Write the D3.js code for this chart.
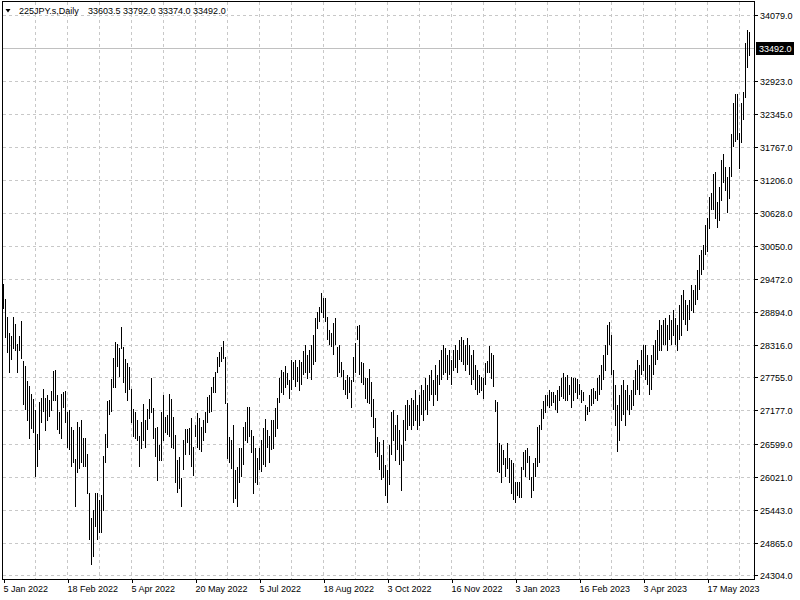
<!DOCTYPE html>
<html><head><meta charset="utf-8">
<script src="https://cdn.jsdelivr.net/npm/d3@7"></script>
<style>
html,body{margin:0;padding:0;background:#fff;}
svg{display:block;font-family:"Liberation Sans",Arial,sans-serif;}
</style></head><body>
<svg id="chart" width="800" height="600"></svg>
<script>
// ---------- data ----------
const symbolName = "225JPY.s,Daily";
const lastOHLC = [33603.5, 33792.0, 33374.0, 33492.0];
const lastPrice = 33492.0;

const highs = [
29392,29131,28816,28537,28484,28816,28694,28345,28484,28747,28049,27961,27700,27612,27472,27385,27193,26774,27332,27402,
27560,27402,27455,27367,27525,27874,27891,27455,27158,27472,27507,27525,27158,27193,26896,26844,26338,26983,26896,27018,
26704,26704,26425,25744,25307,25447,25744,25744,25622,25709,26390,26774,27350,27367,27734,28100,28380,28345,28275,28642,
28293,28083,28014,27944,27560,27210,27158,27018,26739,26983,27297,27018,27210,27385,27751,27227,26878,26896,26582,27158,
27455,27071,27106,27472,27385,27071,26757,26320,26373,26006,26669,26861,26861,26878,27053,26547,26931,27141,27053,26896,
27018,27158,27420,27455,27595,27769,27856,28118,28205,28293,28398,28118,27315,26722,26669,26931,26146,26198,26529,26529,
26896,26983,27245,27245,26844,26739,26529,26355,26529,26669,26878,27036,26844,26739,27018,27018,27227,27402,27751,27891,
27856,27961,27839,27717,28066,28031,28066,27944,28066,28031,28223,28328,28153,28240,28328,28502,28798,28903,28991,29236,
29148,29148,28816,28589,28537,28712,28798,28293,28328,28031,27891,27717,27804,27769,27717,28118,28363,28659,28677,28031,
28014,27751,27751,27909,27682,27385,27053,26722,26634,26408,26669,26233,26146,26582,27158,27193,26931,27106,26844,26582,
27018,27280,27367,27280,27402,27367,27542,27280,27455,27630,27542,27751,27630,27804,27891,27717,27979,27804,28066,28240,
28328,28275,28153,28240,28066,28240,28328,28240,28415,28467,28415,28328,28449,28328,28153,28240,27979,27891,27804,27769,
27751,28014,28049,28310,28188,28153,27367,27332,26617,26582,26495,26355,26617,26355,26320,26268,25936,25936,25936,26198,
26460,26495,26529,26390,26024,26268,26355,26896,26931,27210,27350,27455,27455,27542,27507,27507,27455,27542,27612,27751,
27839,27769,27804,27630,27769,27751,27751,27734,27647,27542,27507,27280,27245,27455,27560,27577,27525,27751,27804,27979,
28153,28328,28677,28729,28502,27891,27630,27280,27455,27630,27717,27542,27630,27455,27542,27717,27891,28066,27979,28240,
28328,28328,28153,27979,28153,28328,28415,28589,28764,28677,28764,28798,28677,28851,28764,28938,28798,28677,29026,29201,
29288,29113,29026,29113,29375,29288,29375,29637,29899,29986,30073,30422,30544,30911,30981,31312,31347,30823,31086,31557,
31661,31435,31260,31435,32010,32552,32709,32709,32028,32552,32744,33599,33826,33792
];
const lows = [
28973,28467,28188,27856,28083,28275,28240,27856,28240,28100,27297,27193,27018,26704,26878,26792,26024,26215,26512,26966,
27158,26827,27001,27071,27176,27367,27367,26844,26774,26704,27245,26983,26547,26512,26198,26285,25517,26094,26180,26285,
26198,26215,25744,24924,24488,24627,25151,24924,25063,25046,25447,26268,26547,27106,27158,27577,27577,27944,27786,28275,
27665,27507,27367,27542,26966,26739,26704,26669,26215,26529,26669,26547,26844,27036,27141,26687,26373,25954,26320,26303,
26669,26792,26757,26739,26547,26529,25919,25761,25814,25500,26146,26408,26617,26408,26198,26041,26722,26547,26495,26460,
26669,26792,26966,27141,27158,27507,27490,27839,27944,28031,28100,27315,26355,26268,26180,25570,25656,25500,25936,26024,
26233,26669,26634,26722,26443,25744,25919,25901,26146,26111,26233,26198,26547,26268,26495,26529,26722,26878,27332,27507,
27472,27577,27630,27402,27542,27717,27595,27682,27525,27630,27804,27856,27751,27856,27717,27979,28031,28624,28729,28903,
28816,28729,28415,28328,28293,28153,28328,27769,27839,27769,27542,27455,27402,27507,27245,27682,27856,28415,27804,27665,
27630,27402,27332,27315,27071,26896,26443,26373,26146,25971,26006,25709,25570,25884,26408,26669,26320,26495,26233,25796,
26320,26669,26844,26931,26844,26931,27018,26844,26931,27106,27018,27193,27106,27367,27455,27280,27455,27367,27630,27717,
27804,27856,27717,27804,27630,27891,27926,27856,28066,28031,27979,27891,27979,27804,27630,27717,27542,27455,27507,27525,
27402,27630,27856,27856,27751,27595,27158,26111,26094,25936,26233,26024,26180,25919,25744,25622,25570,25709,25674,25674,
26146,26024,26268,25971,25674,25796,26024,26198,26268,26861,27053,27141,27280,27245,27280,27332,27193,27141,27367,27420,
27402,27367,27367,27455,27245,27367,27507,27402,27455,27332,27367,27001,27106,27158,27280,27315,27402,27367,27455,27542,
27717,27891,28153,28328,27804,27193,26931,26460,26669,27018,27106,26931,27193,27106,27193,27280,27455,27542,27455,27804,
27891,27717,27630,27455,27542,27804,27979,28066,28240,28240,28328,28328,28240,28415,28328,28502,28328,28240,28415,28502,
28764,28677,28589,28764,28938,28903,29026,29113,29288,29550,29637,29899,29951,30369,30684,30684,30544,30387,30509,30858,
31156,31033,30632,30893,31260,31784,31871,31906,31417,31854,32255,32639,33180,33374
];

const priceTicks = [34079.0, 32923.0, 32345.0, 31767.0, 31206.0, 30628.0, 30050.0, 29472.0, 28894.0,
                    28316.0, 27755.0, 27177.0, 26599.0, 26021.0, 25443.0, 24865.0, 24304.0];
const dateTickBars = [0, 32, 64, 96, 128, 160, 192, 224, 256, 288, 320, 352];
const dateTickLabels = ["5 Jan 2022", "18 Feb 2022", "5 Apr 2022", "20 May 2022", "5 Jul 2022", "18 Aug 2022",
                        "3 Oct 2022", "16 Nov 2022", "3 Jan 2023", "16 Feb 2023", "3 Apr 2023", "17 May 2023"];
const gridBars = d3.range(16, highs.length, 16);

// ---------- layout ----------
const svg = d3.select("#chart");
const plotL = 2.5, plotR = 754.5, plotT = 1.5, plotB = 579.5;
const n = highs.length;
const x = d3.scaleLinear().domain([0, n - 1]).range([3.5, 3.5 + 2 * (n - 1)]);
const y = d3.scaleLinear().domain([24304, 34079]).range([575.5, 15.5]);
const snap = v => Math.floor(v) + 0.5;
const gridColor = "#c8c8c8";

// grid
const grid = svg.append("g").attr("shape-rendering", "crispEdges");
grid.selectAll("line.h").data(priceTicks).enter().append("line")
  .attr("x1", plotL).attr("x2", plotR)
  .attr("y1", d => snap(y(d))).attr("y2", d => snap(y(d)))
  .attr("stroke", gridColor).attr("stroke-dasharray", "3,3");
grid.selectAll("line.v").data(gridBars).enter().append("line")
  .attr("x1", d => x(d)).attr("x2", d => x(d))
  .attr("y1", plotT).attr("y2", plotB)
  .attr("stroke", gridColor).attr("stroke-dasharray", "3,3");

// current price line
svg.append("line").attr("shape-rendering", "crispEdges")
  .attr("x1", plotL).attr("x2", plotR)
  .attr("y1", snap(y(lastPrice)) - 1).attr("y2", snap(y(lastPrice)) - 1)
  .attr("stroke", "#c0c0c0");

// bars (high-low)
svg.append("g").attr("shape-rendering", "crispEdges")
  .selectAll("line").data(highs).enter().append("line")
  .attr("x1", (d, i) => x(i)).attr("x2", (d, i) => x(i))
  .attr("y1", d => y(d)).attr("y2", (d, i) => y(lows[i]) + 0.5)
  .attr("stroke", "#000").attr("stroke-width", 1);

// frame
svg.append("path").attr("shape-rendering", "crispEdges")
  .attr("d", `M${plotL},${plotB}V${plotT}H${plotR}V${plotB}Z`)
  .attr("fill", "none").attr("stroke", "#000");

// y axis (right)
const yAxis = d3.axisRight(y).tickValues(priceTicks).tickSize(3).tickPadding(3)
  .tickFormat(d => d.toFixed(1));
const gy = svg.append("g").attr("transform", `translate(${plotR},0)`).call(yAxis);
gy.select(".domain").remove();
gy.selectAll(".tick line").attr("stroke", "#000").attr("shape-rendering", "crispEdges");
gy.selectAll(".tick").attr("transform", d => `translate(0,${snap(y(d))})`);
gy.selectAll(".tick text").attr("font-size", "9px").attr("font-family", '"Liberation Sans",Arial,sans-serif')
  .attr("fill", "#000").attr("x", 5.5).attr("dy", "0.35em");

// x axis (bottom)
const xAxis = d3.axisBottom(x).tickValues(dateTickBars).tickSize(3).tickPadding(2)
  .tickFormat((d, i) => dateTickLabels[i]);
const gx = svg.append("g").attr("transform", `translate(0,${plotB})`).call(xAxis);
gx.select(".domain").remove();
gx.selectAll(".tick line").attr("stroke", "#000").attr("shape-rendering", "crispEdges");
gx.selectAll(".tick text").attr("font-size", "9px").attr("font-family", '"Liberation Sans",Arial,sans-serif')
  .attr("fill", "#000").attr("text-anchor", "start").attr("x", -0.5).attr("y", 12).attr("dy", 0);

// current price label
const py = snap(y(lastPrice)) - 1;
svg.append("rect").attr("x", 756).attr("y", py - 6.5).attr("width", 38).attr("height", 13).attr("fill", "#000");
svg.append("text").attr("x", 759).attr("y", py + 3.3).attr("font-size", "9px").attr("fill", "#fff")
  .text(lastPrice.toFixed(1));

// header
svg.append("path").attr("d", "M5.5,9L10.5,9L8,12.5Z").attr("fill", "#000");
svg.append("text").attr("x", 19).attr("y", 14).attr("font-size", "9px").attr("fill", "#000").text(symbolName);
svg.append("text").attr("x", 88).attr("y", 14).attr("font-size", "9px").attr("fill", "#000")
  .attr("xml:space", "preserve").style("white-space", "pre")
  .text(lastOHLC.map(v => v.toFixed(1)).join(" "));
</script>
</body></html>
